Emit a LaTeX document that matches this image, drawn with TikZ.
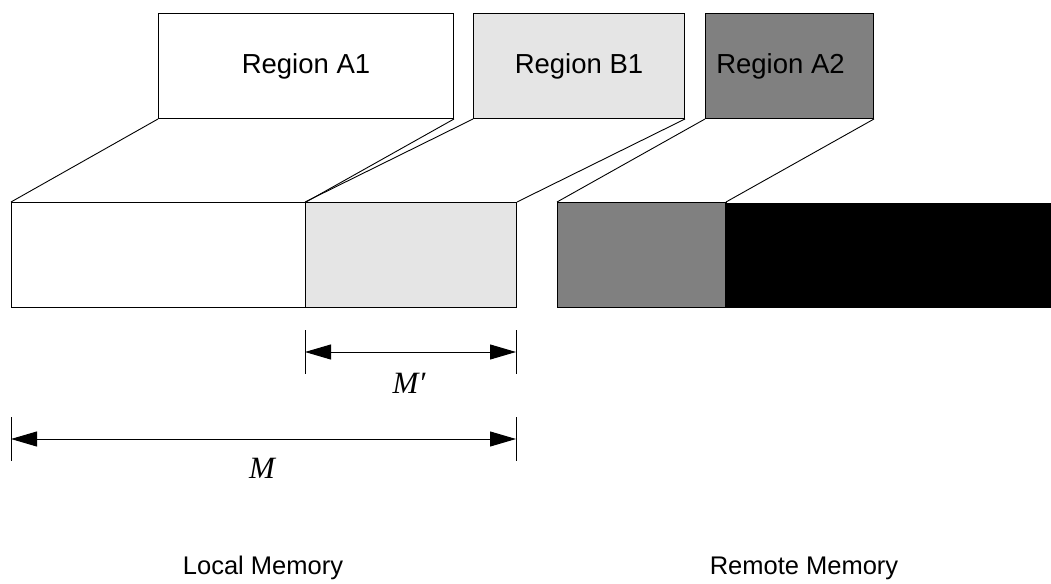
\documentclass[tikz,border=0pt]{standalone}
\usepackage{fontspec}
\setmainfont{Liberation Sans}
\newfontfamily\timesfont{Liberation Serif}
\usetikzlibrary{arrows.meta}
\definecolor{lightfill}{gray}{0.9}
\definecolor{midfill}{gray}{0.5}
\tikzset{
  block/.style={draw=black, line width=1pt, rectangle, inner sep=0pt, anchor=north west, font=\fontsize{27.5}{31}\selectfont},
  link/.style={line width=0.9pt},
  tick/.style={line width=1pt},
  dimarrow/.style={line width=1pt, {Triangle[length=26pt,width=15pt]}-{Triangle[length=26pt,width=15pt]}},
  dimlabel/.style={font=\timesfont\itshape\fontsize{31}{35}\selectfont},
  caption/.style={font=\fontsize{25.5}{29}\selectfont}
}
\begin{document}
\begin{tikzpicture}[x=1pt,y=-1pt]
\useasboundingbox (0,0) rectangle (1051,583);

% regions at the top
\node[block, fill=white, minimum width=295pt, minimum height=105pt] (a1) at (158,13) {Region A1};
\node[block, fill=lightfill, minimum width=211pt, minimum height=105pt] (b1) at (473,13) {Region B1};
\node[block, fill=midfill, minimum width=168pt, minimum height=105pt,
      label={[xshift=-9pt, font=\fontsize{27.5}{31}\selectfont]center:Region A2}] (a2) at (705,13) {};

% memory bars
\node[block, fill=white, minimum width=294pt, minimum height=105pt] (la) at (11,202) {};
\node[block, fill=lightfill, minimum width=211pt, minimum height=105pt] (lb) at (305,202) {};
\node[block, fill=midfill, minimum width=168pt, minimum height=105pt] (ra) at (557,202) {};
\node[block, draw=none, fill=black, minimum width=326pt, minimum height=105pt] (rx) at (725,202) {};
\draw[line width=1pt] (ra.north east) -- (ra.south east);

% projections from the regions onto the memory
\draw[link] (a1.south west) -- (la.north west);
\draw[link] (a1.south east) -- (la.north east);
\draw[link] (b1.south west) -- (lb.north west);
\draw[link] (b1.south east) -- (lb.north east);
\draw[link] (a2.south west) -- (ra.north west);
\draw[link] (a2.south east) -- (ra.north east);

% dimension M'
\coordinate (mp1) at (305,352);
\coordinate (mp2) at (516,352);
\draw[tick] (305,330) -- (305,374);
\draw[tick] (516,330) -- (516,374);
\draw[dimarrow] (mp1) -- (mp2);
\node[dimlabel] (mplabel) at (409,383) {M\char"2032};

% dimension M
\coordinate (m1) at (11,439);
\coordinate (m2) at (516,439);
\draw[tick] (11,417) -- (11,461);
\draw[tick] (516,417) -- (516,461);
\draw[dimarrow] (m1) -- (m2);
\node[dimlabel] (mlabel) at (262,468) {M};

% captions
\node[caption] (local) at (263,568) {Local Memory};
\node[caption] (remote) at (804,568) {Remote Memory};
\end{tikzpicture}
\end{document}
